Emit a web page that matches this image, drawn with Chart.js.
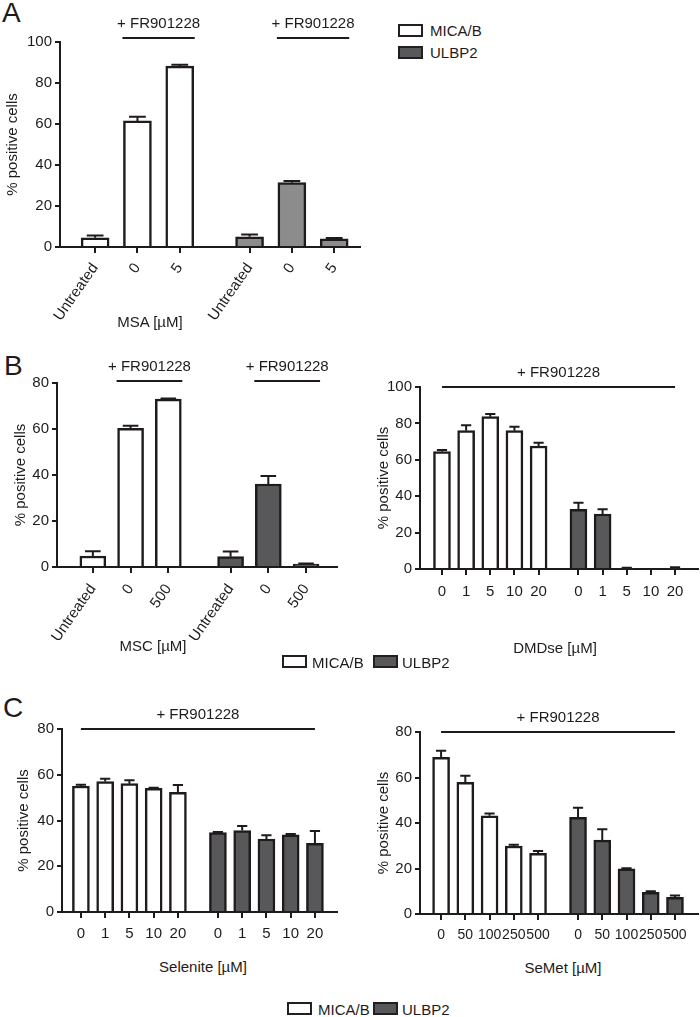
<!DOCTYPE html>
<html>
<head>
<meta charset="utf-8">
<script src="https://cdn.jsdelivr.net/npm/chart.js@4.4.0/dist/chart.umd.min.js"></script>
<style>
  body { margin: 0; background: #fff; }
  #page { position: relative; width: 700px; height: 1017px; overflow: hidden; font-family: "Liberation Sans", Arial, sans-serif; color: #1f1b1c; }
  canvas { position: absolute; }
  .txt { position: absolute; white-space: nowrap; font-size: 15px; line-height: 1; }
  .mid { transform: translateX(-50%); }
  .letter { position: absolute; font-size: 28px; line-height: 1; }
  .sw { position: absolute; width: 21px; height: 9px; border: 2px solid #231f20; background: #fff; }
  .sw.dark { background: #58585a; }
</style>
</head>
<body>
<div id="page">
  <div class="letter" style="left:2px;top:-1px">A</div>
  <div class="letter" style="left:4px;top:352px">B</div>
  <div class="letter" style="left:3px;top:694px">C</div>

  <canvas id="chartA" width="365" height="320" style="left:0;top:0"></canvas>
  <canvas id="chartB1" width="340" height="300" style="left:8px;top:340px"></canvas>
  <canvas id="chartB2" width="329" height="270" style="left:371px;top:340px"></canvas>
  <canvas id="chartC1" width="335" height="250" style="left:11px;top:700px"></canvas>
  <canvas id="chartC2" width="329" height="250" style="left:371px;top:700px"></canvas>

  <div class="txt mid" style="left:150px;top:314px">MSA [µM]</div>
  <div class="txt mid" style="left:153px;top:638px">MSC [µM]</div>
  <div class="txt mid" style="left:555px;top:640px">DMDse [µM]</div>
  <div class="txt mid" style="left:203px;top:959px">Selenite [µM]</div>
  <div class="txt mid" style="left:563px;top:960px">SeMet [µM]</div>

  <!-- legend A -->
  <div class="sw" style="left:398px;top:24px"></div>
  <div class="txt" style="left:430px;top:23px">MICA/B</div>
  <div class="sw dark" style="left:398px;top:46px"></div>
  <div class="txt" style="left:430px;top:45px">ULBP2</div>

  <!-- legend B -->
  <div class="sw" style="left:282px;top:655px"></div>
  <div class="txt" style="left:312px;top:655px">MICA/B</div>
  <div class="sw dark" style="left:373px;top:655px"></div>
  <div class="txt" style="left:402px;top:655px">ULBP2</div>

  <!-- legend C -->
  <div class="sw" style="left:287px;top:1002px"></div>
  <div class="txt" style="left:318px;top:1002px">MICA/B</div>
  <div class="sw dark" style="left:373px;top:1002px"></div>
  <div class="txt" style="left:402px;top:1002px">ULBP2</div>
</div>

<script>
// A - MSA
var msaLabels = ['Untreated', '0', '5'];
var msaMica = [4.5, 61.5, 88.2];
var msaMicaErr = [1.1, 2.0, 0.7];
var msaUlbp = [5.0, 31.4, 4.0];
var msaUlbpErr = [1.1, 0.8, 0.4];

// B left - MSC
var mscLabels = ['Untreated', '0', '500'];
var mscMica = [4.8, 60.3, 73.0];
var mscMicaErr = [2.0, 1.1, 0.3];
var mscUlbp = [4.5, 36.1, 1.3];
var mscUlbpErr = [2.2, 3.5, 0.2];

// B right - DMDse
var dmdseLabels = ['0', '1', '5', '10', '20'];
var dmdseMica = [64.5, 76.0, 83.7, 76.0, 67.6];
var dmdseMicaErr = [0.9, 3.0, 1.5, 2.2, 1.8];
var dmdseUlbp = [32.8, 30.2, 0.5, 0, 0.5];
var dmdseUlbpErr = [3.6, 2.6, 0.2, 0, 0.5];

// C left - Selenite
var seleniteLabels = ['0', '1', '5', '10', '20'];
var seleniteMica = [55.1, 57.0, 56.1, 54.1, 52.3];
var seleniteMicaErr = [0.5, 1.2, 1.5, 0.2, 3.2];
var seleniteUlbp = [34.7, 35.6, 31.9, 33.7, 30.0];
var seleniteUlbpErr = [0.3, 2.0, 1.7, 0.4, 5.4];

// C right - SeMet
var semetLabels = ['0', '50', '100', '250', '500'];
var semetMica = [68.9, 57.9, 43.2, 29.9, 26.7];
var semetMicaErr = [2.9, 2.9, 1.0, 0.5, 1.0];
var semetUlbp = [42.5, 32.5, 19.9, 9.5, 7.3];
var semetUlbpErr = [4.2, 4.8, 0.2, 0.5, 0.8];

var INK = '#1f1b1c';
var GAP = 0.65; // extra space between the two groups, in bar slots

Chart.defaults.font.family = '"Liberation Sans", Arial, sans-serif';
Chart.defaults.color = INK;

// error bars (upper only) + the "+ FR901228" lines above the bars
var extras = {
    id: 'extras',
    afterDatasetsDraw: function (chart, args, opts) {
        var ctx = chart.ctx, xs = chart.scales.x, ys = chart.scales.y;
        ctx.save();
        ctx.strokeStyle = INK;
        ctx.lineWidth = 2;
        chart.data.datasets.forEach(function (ds, di) {
            chart.getDatasetMeta(di).data.forEach(function (bar, i) {
                var e = ds.errors[i];
                if (!e) return;
                var top = ys.getPixelForValue(ds.data[i].y + e);
                var half = bar.width * 0.3;
                ctx.beginPath();
                ctx.moveTo(bar.x, bar.y);
                ctx.lineTo(bar.x, top);
                ctx.moveTo(bar.x - half, top);
                ctx.lineTo(bar.x + half, top);
                ctx.stroke();
            });
        });
        var y = chart.chartArea.top - opts.lift;
        ctx.fillStyle = INK;
        ctx.font = '15px "Liberation Sans", Arial, sans-serif';
        ctx.textAlign = 'center';
        ctx.textBaseline = 'middle';
        opts.spans.forEach(function (s) {
            var x1 = xs.getPixelForValue(s[0]) - opts.ext;
            var x2 = xs.getPixelForValue(s[1]) + opts.ext;
            ctx.beginPath();
            ctx.moveTo(x1, y);
            ctx.lineTo(x2, y);
            ctx.stroke();
            ctx.fillText('+ FR901228', (x1 + x2) / 2, y - 14);
        });
        ctx.restore();
    }
};

function makePanel(id, p) {
    var n = p.labels.length;
    var pos = function (g, i) { return g * (n + GAP) + i; };
    var tickVals = [], tickLabels = [];
    for (var g = 0; g < 2; g++) {
        p.labels.forEach(function (l, i) { tickVals.push(pos(g, i)); tickLabels.push(l); });
    }
    var spans = p.wholeSpan
        ? [[pos(0, 0), pos(1, n - 1)]]
        : [[pos(0, 1), pos(0, n - 1)], [pos(1, 1), pos(1, n - 1)]];
    var bar = { borderColor: INK, borderWidth: 2.5, barThickness: p.barW, grouped: false };

    new Chart(document.getElementById(id), {
        type: 'bar',
        data: {
            datasets: [
                Object.assign({
                    label: 'MICA/B',
                    backgroundColor: '#ffffff',
                    data: p.mica.map(function (v, i) { return { x: pos(0, i), y: v }; }),
                    errors: p.micaErr
                }, bar),
                Object.assign({
                    label: 'ULBP2',
                    backgroundColor: p.ulbpColor,
                    data: p.ulbp.map(function (v, i) { return { x: pos(1, i), y: v }; }),
                    errors: p.ulbpErr
                }, bar)
            ]
        },
        options: {
            responsive: false,
            animation: false,
            layout: { padding: { top: p.padTop, right: p.padRight, left: 0, bottom: 0 } },
            plugins: {
                legend: { display: false },
                tooltip: { enabled: false },
                extras: { spans: spans, ext: p.ext, lift: p.lift }
            },
            scales: {
                x: {
                    type: 'linear',
                    offset: false,
                    min: p.xMin,
                    max: p.xMax,
                    afterBuildTicks: function (s) { s.ticks = tickVals.map(function (v) { return { value: v }; }); },
                    afterFit: function (s) { s.height = p.xHeight; },
                    ticks: {
                        autoSkip: false,
                        minRotation: p.rot,
                        maxRotation: p.rot,
                        padding: p.xPad,
                        font: { size: p.xFont },
                        callback: function (v, i) { return tickLabels[i]; }
                    },
                    grid: { offset: false, drawOnChartArea: false, tickLength: 6, color: INK, lineWidth: 2 },
                    border: { color: INK, width: 2 }
                },
                y: {
                    min: 0,
                    max: p.yMax,
                    afterFit: function (s) { s.width = p.yWidth; },
                    ticks: { stepSize: 20, padding: 3, font: { size: 15 } },
                    grid: { drawOnChartArea: false, tickLength: 5, color: INK, lineWidth: 2 },
                    border: { color: INK, width: 2 },
                    title: { display: true, text: '% positive cells', font: { size: 15 }, padding: { top: 4, bottom: 0 } }
                }
            }
        },
        plugins: [extras]
    });
}

makePanel('chartA', {
    labels: msaLabels, mica: msaMica, micaErr: msaMicaErr, ulbp: msaUlbp, ulbpErr: msaUlbpErr,
    ulbpColor: '#8c8c8c', yMax: 100, barW: 28, xMin: -0.83, xMax: 6.26, rot: 55, xPad: 7, xFont: 15,
    padTop: 42, padRight: 5, yWidth: 60, xHeight: 73, wholeSpan: false, ext: 15, lift: 4
});
makePanel('chartB1', {
    labels: mscLabels, mica: mscMica, micaErr: mscMicaErr, ulbp: mscUlbp, ulbpErr: mscUlbpErr,
    ulbpColor: '#58585a', yMax: 80, barW: 26, xMin: -0.95, xMax: 6.47, rot: 55, xPad: 8, xFont: 15,
    padTop: 43, padRight: 11, yWidth: 49, xHeight: 73, wholeSpan: false, ext: 14, lift: 2
});
makePanel('chartB2', {
    labels: dmdseLabels, mica: dmdseMica, micaErr: dmdseMicaErr, ulbp: dmdseUlbp, ulbpErr: dmdseUlbpErr,
    ulbpColor: '#58585a', yMax: 100, barW: 17, xMin: -0.91, xMax: 10.6, rot: 0, xPad: 8, xFont: 15,
    padTop: 47, padRight: 2, yWidth: 49, xHeight: 41, wholeSpan: true, ext: 0, lift: 0
});
makePanel('chartC1', {
    labels: seleniteLabels, mica: seleniteMica, micaErr: seleniteMicaErr, ulbp: seleniteUlbp, ulbpErr: seleniteUlbpErr,
    ulbpColor: '#58585a', yMax: 80, barW: 17, xMin: -0.78, xMax: 10.56, rot: 0, xPad: 7, xFont: 15,
    padTop: 29, padRight: 9, yWidth: 51, xHeight: 38, wholeSpan: true, ext: 0, lift: 0
});
makePanel('chartC2', {
    labels: semetLabels, mica: semetMica, micaErr: semetMicaErr, ulbp: semetUlbp, ulbpErr: semetUlbpErr,
    ulbpColor: '#58585a', yMax: 80, barW: 17, xMin: -0.87, xMax: 10.6, rot: 0, xPad: 7, xFont: 14,
    padTop: 32, padRight: 2, yWidth: 49, xHeight: 36, wholeSpan: true, ext: 0, lift: 0
});
</script>
</body>
</html>
